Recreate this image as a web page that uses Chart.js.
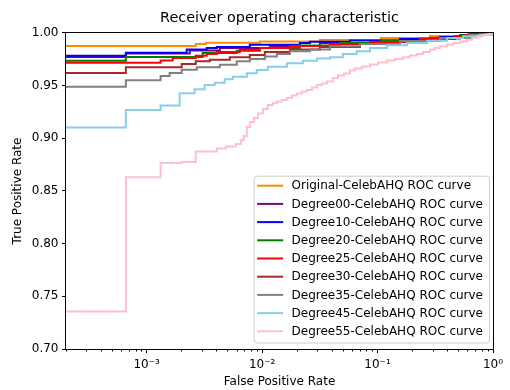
<!DOCTYPE html>
<html lang="en">
<head>
  <meta charset="UTF-8">
  <title>Receiver operating characteristic</title>
  <script src="https://cdn.jsdelivr.net/npm/chart.js@4.4.1/dist/chart.umd.min.js"></script>
  <style>
    body { margin: 0; background: #fff; }
  </style>
</head>
<body>
  <canvas id="roc" width="510" height="390"></canvas>

  <script>
    // ROC curves, one (fpr, tpr) step list per model
    const curveNames = [
      "Original-CelebAHQ ROC curve",
      "Degree00-CelebAHQ ROC curve",
      "Degree10-CelebAHQ ROC curve",
      "Degree20-CelebAHQ ROC curve",
      "Degree25-CelebAHQ ROC curve",
      "Degree30-CelebAHQ ROC curve",
      "Degree35-CelebAHQ ROC curve",
      "Degree45-CelebAHQ ROC curve",
      "Degree55-CelebAHQ ROC curve"
    ]

    const origFpr = [0.0001, 0.00266, 0.00325, 0.00955, 0.03166, 0.107, 0.2848, 0.6081, 1]
    const origTpr = [0.9877, 0.9896, 0.9908, 0.9919, 0.9934, 0.9953, 0.9972, 1.0, 1.0]

    const deg00Fpr = [0.0001, 0.00066, 0.00236, 0.0043, 0.01166, 0.03166, 0.107, 0.2848, 0.633, 0.8543, 1]
    const deg00Tpr = [0.9772, 0.9805, 0.9834, 0.9858, 0.9877, 0.9905, 0.9929, 0.9953, 0.9981, 1.0, 1.0]

    const deg10Fpr = [0.0001, 0.00066, 0.00222, 0.00331, 0.00405, 0.00782, 0.02123, 0.02593, 0.05764, 0.1564, 0.3477, 0.633, 0.8543, 1]
    const deg10Tpr = [0.9785, 0.9813, 0.9842, 0.9858, 0.9867, 0.9889, 0.9905, 0.9917, 0.9929, 0.9943, 0.9962, 0.9981, 1.0, 1.0]

    const deg20Fpr = [0.0001, 0.00066, 0.00306, 0.00603, 0.00955, 0.02123, 0.0472, 0.107, 0.2331, 0.5184, 0.7728, 1]
    const deg20Tpr = [0.9737, 0.9772, 0.9810, 0.9832, 0.9858, 0.9881, 0.9905, 0.9924, 0.9948, 0.9981, 1.0, 1.0]

    const deg25Fpr = [0.0001, 0.00132, 0.00168, 0.00266, 0.00331, 0.00405, 0.00641, 0.00955, 0.01739, 0.03866, 0.0859, 0.2331, 0.4692, 0.633, 1]
    const deg25Tpr = [0.9718, 0.9739, 0.9763, 0.9785, 0.9801, 0.9820, 0.9839, 0.9858, 0.9877, 0.9896, 0.9915, 0.9943, 0.9972, 1.0, 1.0]

    const deg30Fpr = [0.0001, 0.00066, 0.00201, 0.00266, 0.00352, 0.00525, 0.00782, 0.01055, 0.01739, 0.03166, 0.0704, 0.1564, 0.3477, 0.5728, 0.7428, 1]
    const deg30Tpr = [0.9620, 0.9674, 0.9706, 0.9731, 0.9747, 0.9769, 0.9791, 0.9820, 0.9843, 0.9867, 0.9896, 0.9924, 0.9953, 0.9981, 1.0, 1.0]

    const deg35Fpr = [0.0001, 0.00066, 0.00132, 0.00158, 0.00201, 0.00272, 0.0043, 0.00603, 0.00782, 0.01055, 0.01341, 0.01739, 0.02593, 0.03866, 0.0704, 0.1564, 0.3477, 0.633, 0.8543, 1]
    const deg35Tpr = [0.9490, 0.9551, 0.9592, 0.9620, 0.9652, 0.9674, 0.9699, 0.9731, 0.9753, 0.9777, 0.9801, 0.9826, 0.9842, 0.9874, 0.9896, 0.9924, 0.9953, 0.9981, 1.0, 1.0]

    const deg45Fpr = [0.0001, 0.00066, 0.00132, 0.00193, 0.0026, 0.00318, 0.00389, 0.00474, 0.00557, 0.00737, 0.00899, 0.0112, 0.01638, 0.02254, 0.02981, 0.03866, 0.05, 0.066, 0.0859, 0.1206, 0.18, 0.27, 0.3999, 0.55, 0.7728, 0.982, 1]
    const deg45Tpr = [0.9103, 0.9269, 0.9312, 0.9428, 0.9466, 0.9507, 0.9528, 0.9561, 0.9585, 0.9618, 0.9649, 0.9680, 0.9712, 0.9737, 0.9758, 0.9769, 0.9801, 0.9826, 0.9858, 0.9883, 0.9905, 0.9927, 0.9953, 0.9969, 0.9984, 1.0, 1.0]

    const deg55Fpr = [0.0001, 0.00066, 0.00132, 0.00201, 0.00266, 0.00405, 0.00484, 0.00591, 0.00654, 0.00694, 0.00737, 0.00782, 0.00847, 0.00918, 0.01014, 0.0112, 0.01238, 0.01341, 0.01482, 0.01638, 0.0181, 0.02, 0.0221, 0.02442, 0.02698, 0.02981, 0.03295, 0.0364, 0.04104, 0.04536, 0.0511, 0.05764, 0.0637, 0.0732, 0.0859, 0.1008, 0.1206, 0.1416, 0.1661, 0.191, 0.2196, 0.2476, 0.2848, 0.3147, 0.3477, 0.3999, 0.4508, 0.5184, 0.5963, 0.659, 0.7281, 0.8207, 0.9068, 0.982, 1]
    const deg55Tpr = [0.7355, 0.8631, 0.8766, 0.8776, 0.8875, 0.8904, 0.8923, 0.8947, 0.8985, 0.9023, 0.9108, 0.9155, 0.9193, 0.9236, 0.9279, 0.9317, 0.9336, 0.9350, 0.9364, 0.9383, 0.9407, 0.9426, 0.9445, 0.9459, 0.9483, 0.9507, 0.9521, 0.9540, 0.9573, 0.9597, 0.9616, 0.9644, 0.9663, 0.9682, 0.9701, 0.9720, 0.9739, 0.9753, 0.9769, 0.9786, 0.9801, 0.9820, 0.9842, 0.9858, 0.9874, 0.9891, 0.9905, 0.9919, 0.9936, 0.9953, 0.9969, 0.9981, 0.9995, 1.0, 1.0]

    const curves = [
      [origFpr, origTpr], [deg00Fpr, deg00Tpr], [deg10Fpr, deg10Tpr],
      [deg20Fpr, deg20Tpr], [deg25Fpr, deg25Tpr], [deg30Fpr, deg30Tpr],
      [deg35Fpr, deg35Tpr], [deg45Fpr, deg45Tpr], [deg55Fpr, deg55Tpr]
    ]

    // axis ticks
    const xMin = 0.0002
    const xMax = 1
    const xMajorTicks = [0.001, 0.01, 0.1, 1]
    const xMajorLabels = ["10\u207B\u00B3", "10\u207B\u00B2", "10\u207B\u00B9", "10\u2070"]
    const yTicks = [0.70, 0.75, 0.80, 0.85, 0.90, 0.95, 1.00]

    const lineColors = ["#ff8c00", "#800080", "#0000ff", "#008000", "#ff0000", "#a52a2a", "#808080", "#87ceeb", "#ffc0cb"]

    // minor ticks 2..9 inside every decade
    const xMinorTicks = []
    for (const d of [0.0001, 0.001, 0.01, 0.1]) {
      for (let k = 2; k <= 9; k++) {
        const v = d * k
        if (v >= xMin && v <= xMax) xMinorTicks.push(v)
      }
    }

    const FONT = '"DejaVu Sans", sans-serif'
    Chart.defaults.font.family = FONT
    Chart.defaults.font.size = 12
    Chart.defaults.color = "#000"

    // top/right spines and short minor ticks on the log axis
    const framePlugin = {
      id: "frame",
      afterDatasetsDraw(chart) {
        const { ctx, chartArea: a, scales: { x } } = chart
        ctx.save()
        ctx.strokeStyle = "#000"
        ctx.lineWidth = 1
        ctx.strokeRect(Math.round(a.left) - 0.5, Math.round(a.top) - 0.5,
          Math.round(a.right - a.left) + 1, Math.round(a.bottom - a.top) + 1)
        ctx.beginPath()
        for (const v of xMinorTicks) {
          const px = Math.round(x.getPixelForValue(v)) + 0.5
          ctx.moveTo(px, a.bottom)
          ctx.lineTo(px, a.bottom + 2.5)
        }
        ctx.stroke()
        ctx.restore()
      }
    }

    // legend box in the lower right corner of the plot
    const legendPlugin = {
      id: "legendBox",
      afterDraw(chart) {
        const { ctx, chartArea: a } = chart
        ctx.save()
        ctx.font = "12px " + FONT
        const textW = Math.max(...curveNames.map(n => ctx.measureText(n).width))
        const rowH = 18.2, padX = 3.5, handle = 26, gap = 8.4
        const w = padX + handle + gap + textW + 6
        const h = rowH * curveNames.length + 3
        const right = a.right - 4
        const bottom = a.bottom - 6.5
        const left = right - w
        const top = bottom - h

        ctx.beginPath()
        ctx.roundRect(left + 0.5, top + 0.5, w, h, 3)
        ctx.fillStyle = "rgba(255,255,255,0.8)"
        ctx.fill()
        ctx.strokeStyle = "#cccccc"
        ctx.lineWidth = 1
        ctx.stroke()

        ctx.textBaseline = "middle"
        ctx.textAlign = "left"
        curveNames.forEach((name, i) => {
          const y = top + 10 + i * rowH
          ctx.beginPath()
          ctx.strokeStyle = lineColors[i]
          ctx.lineWidth = 2
          ctx.moveTo(left + padX, y)
          ctx.lineTo(left + padX + handle, y)
          ctx.stroke()
          ctx.fillStyle = "#000"
          ctx.fillText(name, left + padX + handle + gap, y + 0.5)
        })
        ctx.restore()
      }
    }

    new Chart(document.getElementById("roc"), {
      type: "line",
      data: {
        datasets: curveNames.map((name, i) => ({
          label: name,
          data: curves[i][0].map((f, j) => ({ x: f, y: curves[i][1][j] })),
          borderColor: lineColors[i],
          backgroundColor: lineColors[i],
          borderWidth: 2,
          pointRadius: 0,
          stepped: true,
          fill: false,
          order: curveNames.length - 1 - i
        }))
      },
      options: {
        responsive: false,
        animation: false,
        devicePixelRatio: 1,
        layout: { padding: { left: 0, right: 17, top: 0, bottom: 0 } },
        plugins: {
          legend: { display: false },
          tooltip: { enabled: false },
          title: {
            display: true,
            fullSize: false,
            text: "Receiver operating characteristic",
            color: "#000",
            font: { size: 14.4, weight: "normal" },
            padding: { top: 9.5, bottom: 6.2 }
          }
        },
        scales: {
          x: {
            type: "logarithmic",
            min: xMin,
            max: xMax,
            afterBuildTicks: scale => {
              scale.ticks = xMajorTicks.map(v => ({ value: v }))
            },
            afterFit: scale => { scale.height = 41 },
            ticks: {
              autoSkip: false,
              maxRotation: 0,
              padding: 5,
              color: "#000",
              callback: v => {
                const k = xMajorTicks.findIndex(m => Math.abs(m - v) / m < 1e-6)
                return k >= 0 ? xMajorLabels[k] : ""
              }
            },
            grid: { drawOnChartArea: false, tickLength: 4, color: "#000" },
            border: { display: false },
            title: {
              display: true,
              text: "False Positive Rate",
              color: "#000",
              font: { size: 12 },
              padding: { top: 0, bottom: 0.8 }
            }
          },
          y: {
            type: "linear",
            min: 0.70,
            max: 1.00,
            afterBuildTicks: scale => {
              scale.ticks = yTicks.map(v => ({ value: v }))
            },
            afterFit: scale => { scale.width = 66 },
            ticks: {
              padding: 3.5,
              color: "#000",
              callback: v => v.toFixed(2)
            },
            grid: { drawOnChartArea: false, tickLength: 4, color: "#000" },
            border: { display: false },
            title: {
              display: true,
              text: "True Positive Rate",
              color: "#000",
              font: { size: 12 },
              padding: { top: 10.8, bottom: 0 }
            }
          }
        }
      },
      plugins: [framePlugin, legendPlugin]
    })
  </script>
</body>
</html>
